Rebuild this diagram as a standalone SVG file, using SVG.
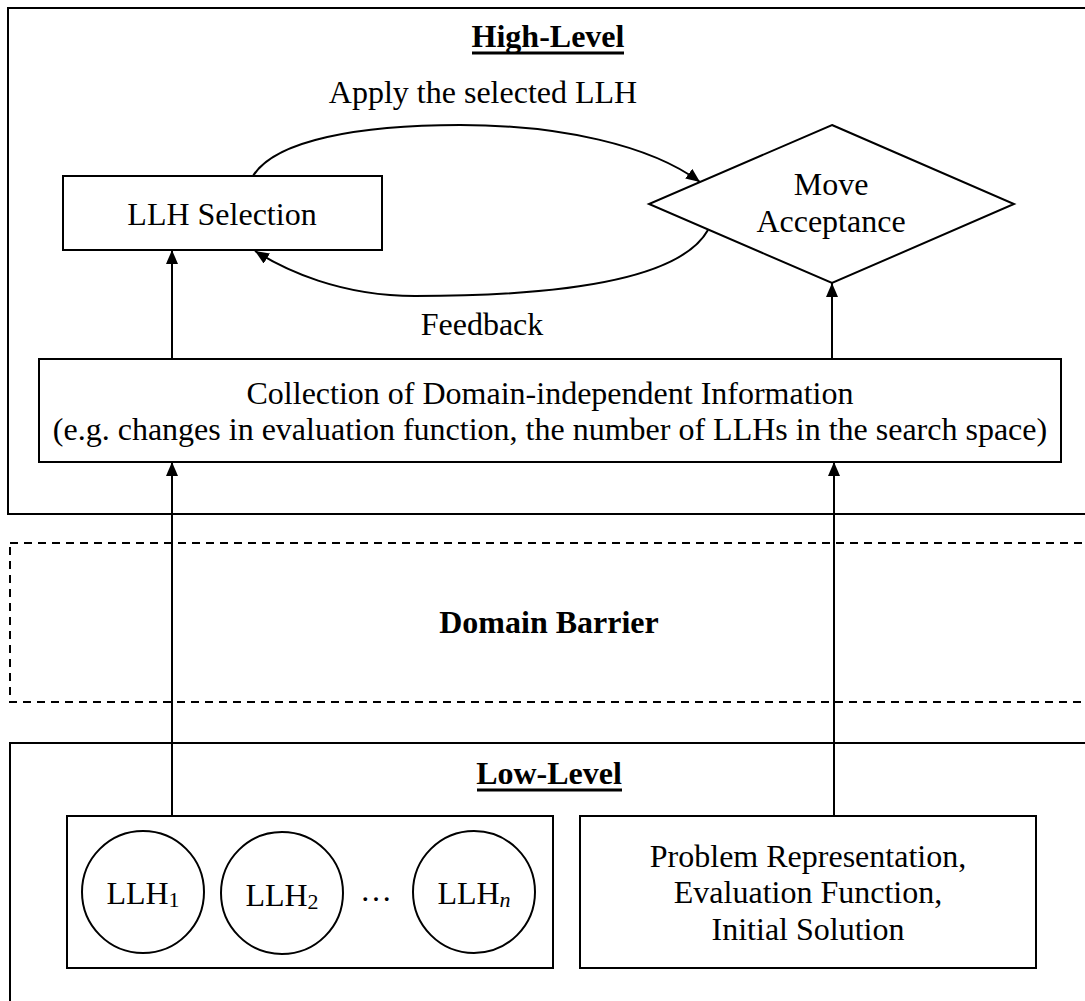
<svg xmlns="http://www.w3.org/2000/svg" width="1085" height="1001" viewBox="0 0 1085 1001">
<style>
  .frame { fill: none; stroke: #000; stroke-width: 2; }
  .dash { fill: none; stroke: #000; stroke-width: 2; stroke-dasharray: 8 6; }
  .box { fill: #fff; stroke: #000; stroke-width: 2; }
  .edge { fill: none; stroke: #000; stroke-width: 2; }
  text { font-family: "Liberation Serif", "Times New Roman", serif; font-size: 32px; fill: #000; text-anchor: middle; }
  .title { font-weight: bold; }
  .ul { stroke: #000; stroke-width: 3; }
  .sub { font-size: 22px; }
</style>
<defs>
  <marker id="arrow" viewBox="0 0 14 12" refX="14" refY="6" markerWidth="14" markerHeight="12" markerUnits="userSpaceOnUse" orient="auto">
    <path d="M0,0 L14,6 L0,12 Z" fill="#000"/>
  </marker>
</defs>
<rect width="1085" height="1001" fill="#fff"/>

<g id="high-level">
  <rect class="frame" x="8" y="8" width="1100" height="506"/>
  <text class="title" x="548" y="47">High-Level</text>
  <line class="ul" x1="472" y1="53" x2="624" y2="53"/>
</g>

<g id="domain-barrier">
  <rect class="dash" x="10" y="543" width="1100" height="159"/>
  <text class="title" x="549" y="633">Domain Barrier</text>
</g>

<g id="low-level">
  <rect class="frame" x="10" y="743" width="1100" height="280"/>
  <text class="title" x="549" y="784">Low-Level</text>
  <line class="ul" x1="477" y1="790" x2="622" y2="790"/>
</g>

<g id="llh-selection">
  <rect class="box" x="63" y="176" width="319" height="74"/>
  <text x="222" y="225">LLH Selection</text>
</g>

<g id="move-acceptance">
  <polygon class="box" points="832,125 1014,204 832,283 649,204"/>
  <text x="831" y="195">Move</text>
  <text x="831" y="232">Acceptance</text>
</g>

<g id="collection">
  <rect class="box" x="39" y="359" width="1022" height="103"/>
  <text x="550" y="404">Collection of Domain-independent Information</text>
  <text x="550" y="440">(e.g. changes in evaluation function, the number of LLHs in the search space)</text>
</g>

<g id="llh-group">
  <rect class="box" x="67" y="816" width="486" height="152"/>
  <g id="llh1">
    <ellipse class="box" cx="143" cy="892" rx="61" ry="61"/>
    <text x="143" y="904">LLH<tspan class="sub" dy="3">1</tspan></text>
  </g>
  <g id="llh2">
    <ellipse class="box" cx="282" cy="893" rx="61" ry="61"/>
    <text x="282" y="906">LLH<tspan class="sub" dy="3">2</tspan></text>
  </g>
  <text x="376" y="901">…</text>
  <g id="llhn">
    <ellipse class="box" cx="474" cy="892" rx="61" ry="61"/>
    <text x="474" y="904">LLH<tspan class="sub" dy="3" font-style="italic">n</tspan></text>
  </g>
</g>

<g id="problem">
  <rect class="box" x="580" y="816" width="456" height="152"/>
  <text x="808" y="867">Problem Representation,</text>
  <text x="808" y="903">Evaluation Function,</text>
  <text x="808" y="940">Initial Solution</text>
</g>

<g id="connectors">
  <path class="edge" d="M253,176 C275,140 360,125 460,125 C560,125 650,145 700,182" marker-end="url(#arrow)"/>
  <text x="483" y="103">Apply the selected LLH</text>
  <path class="edge" d="M708,230 C680,280 560,296 415,296 C340,296 285,270 255,251" marker-end="url(#arrow)"/>
  <text x="482" y="335">Feedback</text>
  <line class="edge" x1="172" y1="359" x2="172" y2="250" marker-end="url(#arrow)"/>
  <line class="edge" x1="832" y1="359" x2="832" y2="283" marker-end="url(#arrow)"/>
  <line class="edge" x1="172" y1="816" x2="172" y2="462" marker-end="url(#arrow)"/>
  <line class="edge" x1="834" y1="816" x2="834" y2="462" marker-end="url(#arrow)"/>
</g>
</svg>
